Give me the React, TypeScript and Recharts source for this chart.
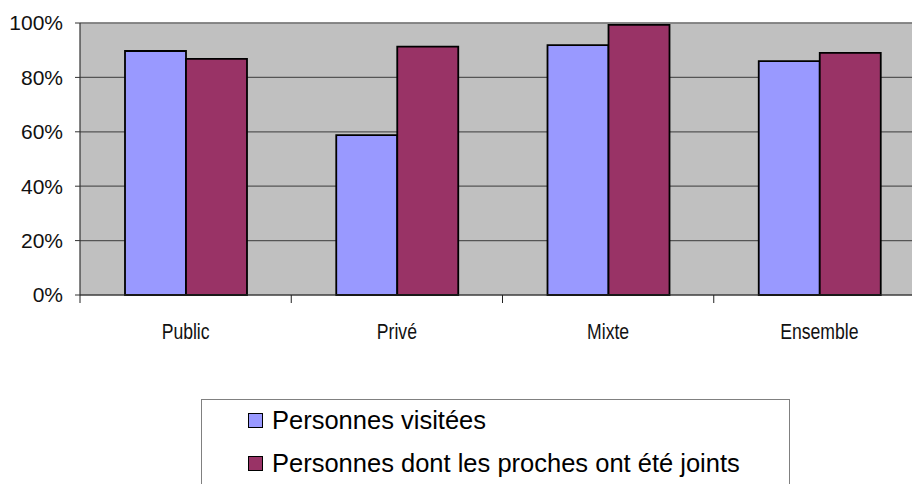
import { BarChart, Bar, XAxis, YAxis, CartesianGrid, ReferenceLine } from 'recharts'

const categories = ['Public', 'Privé', 'Mixte', 'Ensemble']
const personnesVisitees = [0.897, 0.588, 0.919, 0.86]
const prochesJoints = [0.868, 0.913, 0.993, 0.89]
const yTicks = [0, 0.2, 0.4, 0.6, 0.8, 1]

const seriesNames = ['Personnes visitées', 'Personnes dont les proches ont été joints']
const BLUE = '#9999FF'
const PLUM = '#993366'

const data = categories.map((name, i) => ({
  name,
  visitees: personnesVisitees[i],
  proches: prochesJoints[i],
}))

const pct = (v: number) => `${Math.round(v * 100)}%`

// category label in the band centre (horizontally squeezed, like a narrow face),
// tick mark on the band's left boundary
function CategoryTick(props: any) {
  const { x, y, payload } = props
  const half = payload?.offset ?? 0
  return (
    <g>
      <line x1={x - half} x2={x - half} y1={y} y2={y + 8} stroke="#222" strokeWidth={1} />
      <text
        transform={`translate(${x},${y + 44}) scale(0.8,1)`}
        textAnchor="middle"
        fill="#111"
        fontSize={22}
        fontFamily="'Liberation Sans', Arial, sans-serif"
      >
        {payload.value}
      </text>
    </g>
  )
}

export default function App() {
  return (
    <div
      style={{
        position: 'fixed', top: 0, left: 0, width: 912, height: 484,
        overflow: 'hidden', background: '#fff',
        fontFamily: "'Liberation Sans', Arial, sans-serif",
      }}
    >
      <BarChart
        width={925}
        height={360}
        data={data}
        margin={{ top: 23, right: 0, left: 0, bottom: 0 }}
        barGap={0}
        barSize={61}
      >
        <CartesianGrid vertical={false} fill="#C0C0C0" stroke="#555" strokeWidth={1.2} />
        <ReferenceLine y={1} stroke="#808080" strokeWidth={1.5} />
        <XAxis
          dataKey="name"
          height={65}
          interval={0}
          tickSize={0}
          tickMargin={0}
          tickLine={false}
          axisLine={{ stroke: '#333', strokeWidth: 1.2 }}
          tick={<CategoryTick />}
        />
        <YAxis
          width={80}
          domain={[0, 1]}
          ticks={yTicks}
          tickFormatter={pct}
          tickSize={5}
          tickMargin={12}
          tick={{ fontSize: 21, fill: '#111', fontFamily: "'Liberation Sans', Arial, sans-serif" }}
          tickLine={{ stroke: '#333' }}
          axisLine={{ stroke: '#333', strokeWidth: 1.2 }}
        />
        <Bar dataKey="visitees" fill={BLUE} stroke="#000" strokeWidth={1.8} isAnimationActive={false} />
        <Bar dataKey="proches" fill={PLUM} stroke="#000" strokeWidth={1.8} isAnimationActive={false} />
      </BarChart>

      {/* legend frame; its lower edge runs past the bottom of the page */}
      <div
        style={{
          position: 'absolute', left: 201, top: 399, width: 589, height: 120,
          border: '1.5px solid #808080', boxSizing: 'border-box',
        }}
      />
      {seriesNames.map((label, i) => (
        <div
          key={label}
          style={{
            position: 'absolute', left: 248, top: 406 + i * 43, height: 28,
            display: 'flex', alignItems: 'center', fontSize: 25.5, lineHeight: '28px', color: '#000',
          }}
        >
          <span
            style={{
              width: 15, height: 15, boxSizing: 'border-box', marginRight: 9,
              background: i === 0 ? BLUE : PLUM, border: '1.5px solid #000',
            }}
          />
          <span>{label}</span>
        </div>
      ))}
    </div>
  )
}
